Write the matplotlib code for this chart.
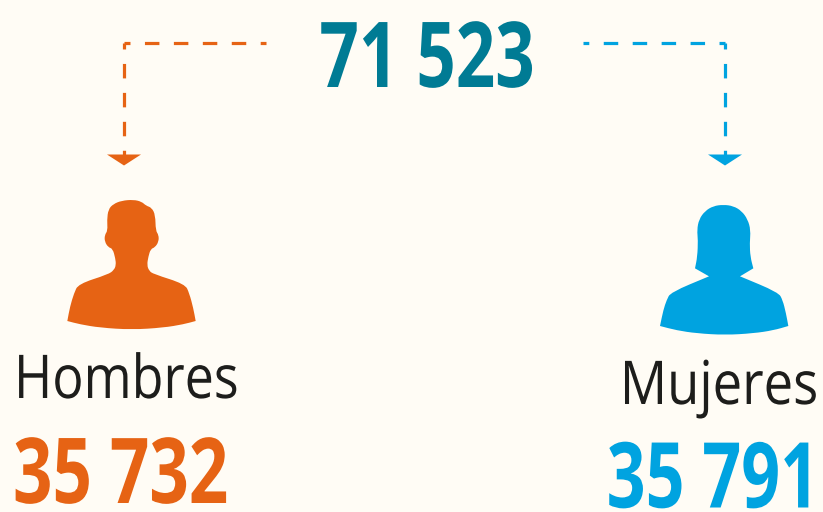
#!/usr/bin/env python3
"""
Recreate population by sex infographic
"""

import matplotlib
matplotlib.use('Agg')
import matplotlib.pyplot as plt
from matplotlib.patches import PathPatch, Polygon
from matplotlib.path import Path
from matplotlib.patheffects import AbstractPathEffect
from matplotlib.transforms import Affine2D

BG = '#fffcf5'
ORANGE = '#e66314'
BLUE = '#00a3e0'
TEAL = '#007b94'
DARK = '#1d1d1b'

total_label = '71 523'
categories = ['Hombres', 'Mujeres']
value_labels = ['35 732', '35 791']

# silhouette outlines (3x crop pixels), doubled points are sharp corners
male_outline = [(52, 543), (52, 543), (60, 500), (72, 460), (85, 432), (175, 403), (192, 390), (198, 375),
                (196, 355), (188, 326), (175, 322), (164, 305), (164, 285), (173, 272), (171, 240),
                (175, 208), (190, 192), (215, 182), (250, 179), (275, 185), (288, 197), (305, 203),
                (316, 225), (317, 272), (326, 285), (326, 305), (315, 322), (302, 327), (295, 350),
                (291, 375), (297, 392), (310, 402), (405, 432), (418, 460), (430, 505), (437, 543),
                (437, 543), (400, 553), (340, 563), (245, 569), (150, 563), (90, 553)]
female_outline = [(60, 558), (60, 558), (70, 510), (80, 480), (92, 457), (207, 409), (207, 409),
                  (165, 385), (165, 385), (172, 350), (174, 300), (171, 270), (177, 238), (195, 213),
                  (220, 198), (250, 194), (280, 198), (305, 213), (323, 238), (332, 270), (329, 310),
                  (331, 350), (340, 385), (340, 385), (300, 409), (300, 409), (415, 457), (428, 480),
                  (438, 520), (445, 558), (445, 558), (400, 571), (340, 580), (255, 585), (170, 580),
                  (110, 571)]


class Condense(AbstractPathEffect):
    """Squeeze a text horizontally around its anchor, no condensed font is installed"""

    def __init__(self, anchor_x, factor):
        super().__init__()
        self.anchor_x = anchor_x
        self.factor = factor

    def draw_path(self, renderer, gc, tpath, affine, rgbFace=None):
        squeeze = Affine2D().translate(-self.anchor_x, 0).scale(self.factor, 1).translate(self.anchor_x, 0)
        renderer.draw_path(gc, tpath, affine + squeeze, rgbFace)


def draw_person(ax, outline, x0, y0, color):
    """Draw a smoothed silhouette from crop coordinates"""
    pts = [(x / 3 + x0, y / 3 + y0) for x, y in outline]
    mids = [((a[0] + b[0]) / 2, (a[1] + b[1]) / 2) for a, b in zip(pts, pts[1:] + pts[:1])]
    verts = [mids[-1]]
    codes = [Path.MOVETO]
    for p, m in zip(pts, mids):
        verts += [p, m]
        codes += [Path.CURVE3, Path.CURVE3]
    ax.add_patch(PathPatch(Path(verts, codes), facecolor=color, edgecolor='none'))


def draw_arrow(ax, x_start, x_corner, color):
    """Dashed elbow line with a flat arrow head, dashes run out from the corner"""
    style = dict(color=color, linewidth=2.3, linestyle=(2.66, (4.53, 4.53)))
    ax.plot([x_corner, x_start], [43, 43], **style)
    ax.plot([x_corner, x_corner], [43, 156], **style)
    ax.add_patch(Polygon([(x_corner - 17, 154.5), (x_corner + 17, 154.5), (x_corner, 165.5)],
                         closed=True, facecolor=color, edgecolor='none'))


def put_text(ax, x, y, label, factor, ha, **kwargs):
    anchor_x = ax.transData.transform((x, y))[0]
    text = ax.text(x, y, label, ha=ha, va='baseline', **kwargs)
    text.set_path_effects([Condense(anchor_x, factor)])


def main():
    fig = plt.figure(figsize=(8.23, 5.12), dpi=100, facecolor=BG)
    ax = fig.add_axes([0, 0, 1, 1])
    ax.set_xlim(0, 823)
    ax.set_ylim(512, 0)
    ax.axis('off')

    draw_arrow(ax, 266, 124, ORANGE)
    draw_arrow(ax, 583, 725, BLUE)
    draw_person(ax, male_outline, 50, 140, ORANGE)
    draw_person(ax, female_outline, 640, 140, BLUE)

    big = dict(family='Open Sans', fontweight='bold', fontsize=65.5)
    put_text(ax, 427, 87, total_label, 0.76, 'center', color=TEAL, **big)
    put_text(ax, 13, 503, value_labels[0], 0.76, 'left', color=ORANGE, **big)
    put_text(ax, 819, 507.5, value_labels[1], 0.75, 'right', color=BLUE, **big)

    label = dict(family='Open Sans', fontsize=43.5, color=DARK)
    put_text(ax, 14, 398, categories[0], 0.86, 'left', **label)
    put_text(ax, 818, 404, categories[1], 0.87, 'right', **label)

    plt.savefig('out.png', dpi=100, facecolor=BG)
    plt.close()


if __name__ == '__main__':
    main()
